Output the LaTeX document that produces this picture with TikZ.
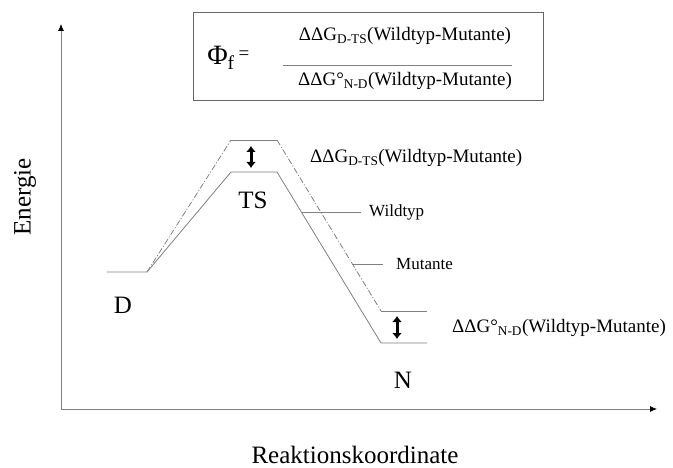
\documentclass[tikz,border=0pt]{standalone}
\usepackage{fontspec}
\setmainfont{Liberation Serif}
\usetikzlibrary{calc,arrows.meta}

\begin{document}
\begin{tikzpicture}[x=1pt,y=-1pt,
    curve/.style={draw=black!50,line width=0.8pt},
    mutcurve/.style={curve,dash pattern=on 6pt off 2pt on 1pt off 2pt},
    bigtext/.style={font=\fontsize{25}{28}\selectfont,inner sep=0pt},
    midtext/.style={font=\fontsize{19}{22}\selectfont,inner sep=0pt},
    smalltext/.style={font=\fontsize{17}{20}\selectfont,inner sep=0pt},
    dgarrow/.style={draw=black,line width=3pt,{Latex[length=6pt,width=10pt]}-{Latex[length=6pt,width=10pt]}}]
  \useasboundingbox (0,0) rectangle (673,468);
  % Achsen
  \coordinate (o) at (61,409);
  \coordinate (ytop) at (61,24);
  \coordinate (xend) at (657,409);
  \draw[curve,-{Latex[black,length=7pt,width=6pt]}] (o) -- (ytop);
  \draw[curve,-{Latex[black,length=7pt,width=6pt]}] (o) -- (xend);
  \node[bigtext,rotate=90](energie)at(25,197){Energie};
  \node[bigtext](rk)at(355,455){Reaktionskoordinate};
  % Wildtyp
  \coordinate (d0) at (107,272);
  \coordinate (d1) at (147,272);
  \coordinate (w1) at (231,172);
  \coordinate (w2) at (277,172);
  \coordinate (w3) at (381,343);
  \coordinate (w4) at (427,343);
  \draw[curve] (d0)--(d1)--(w1)--(w2)--(w3)--(w4);
  % Mutante
  \coordinate (m1) at (231,140);
  \coordinate (m2) at (277,140);
  \coordinate (m3) at (381,311);
  \coordinate (m4) at (427,311);
  \draw[mutcurve] (d1)--(m1);
  \draw[curve] (m1)--(m2);
  \draw[mutcurve] (m2)--(m3);
  \draw[curve] (m3)--(m4);
  % Zustaende
  \node[bigtext](ts)at(253,200){TS};
  \node[bigtext](d)at(123,305){D};
  \node[bigtext](n)at(403,380){N};
  % Energiedifferenzen
  \coordinate (a1) at (251,146);
  \coordinate (a2) at (251,168);
  \coordinate (b1) at (397,316);
  \coordinate (b2) at (397,339);
  \draw[dgarrow] (a1)--(a2);
  \draw[dgarrow] (b1)--(b2);
  \node[midtext,anchor=west](dgts)at(310,158){ΔΔG\textsubscript{D-TS}(Wildtyp-Mutante)};
  \node[midtext,anchor=west](dgnd)at(452,328){ΔΔG°\textsubscript{N-D}(Wildtyp-Mutante)};
  % Beschriftung der Kurven
  \node[smalltext,anchor=west](wt)at(369,212){Wildtyp};
  \node[smalltext,anchor=west](mt)at(396,264){Mutante};
  \coordinate (pw) at (302,212);
  \coordinate (pm) at (352,264);
  \draw[curve] (pw)--([xshift=-8pt]wt.west);
  \draw[curve] (pm)--([xshift=-13pt]mt.west);
  % Formel
  \draw[draw=black!60,line width=0.8pt] (193,12) rectangle (543,100);
  \node[font=\fontsize{28}{30}\selectfont,inner sep=0pt](phi)at(221,58){Φ\textsubscript{f}};
  \node[midtext](eq)at(244,55){=};
  \coordinate (f1) at (283,65);
  \coordinate (f2) at (512,65);
  \draw[curve] (f1)--(f2);
  \node[midtext](num)at(405,36){ΔΔG\textsubscript{D-TS}(Wildtyp-Mutante)};
  \node[midtext](den)at(405,81){ΔΔG°\textsubscript{N-D}(Wildtyp-Mutante)};
\end{tikzpicture}
\end{document}
